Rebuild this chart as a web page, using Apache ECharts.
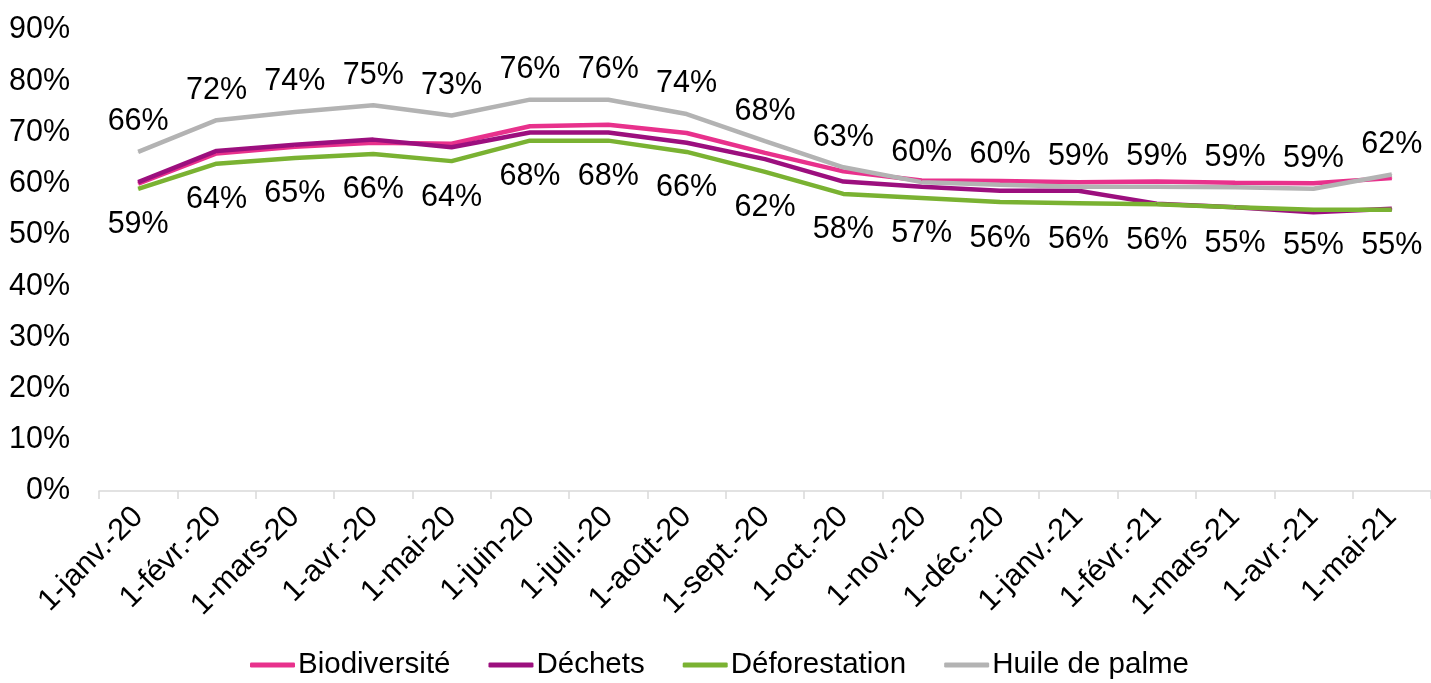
<!DOCTYPE html>
<html>
<head>
<meta charset="utf-8">
<script src="https://cdn.jsdelivr.net/npm/echarts@6/dist/echarts.min.js"></script>
<style>
html,body{margin:0;padding:0;background:#fff;}
#chart{width:1431px;height:683px;}
</style>
</head>
<body>
<div id="chart"></div>
<script>
const categories = ['1-janv.-20','1-févr.-20','1-mars-20','1-avr.-20','1-mai-20','1-juin-20','1-juil.-20','1-août-20','1-sept.-20','1-oct.-20','1-nov.-20','1-déc.-20','1-janv.-21','1-févr.-21','1-mars-21','1-avr.-21','1-mai-21'];
const biodiversite = [60.0, 65.9, 67.2, 68.0, 67.8, 71.2, 71.5, 69.9, 66.0, 62.4, 60.6, 60.5, 60.3, 60.4, 60.2, 60.1, 61.1];
const dechets      = [60.3, 66.4, 67.6, 68.6, 67.1, 70.0, 70.0, 68.0, 64.8, 60.4, 59.4, 58.6, 58.6, 56.1, 55.4, 54.4, 55.1];
const deforestation= [59.0, 63.9, 65.0, 65.8, 64.4, 68.4, 68.4, 66.2, 62.3, 58.0, 57.2, 56.4, 56.2, 56.0, 55.4, 54.9, 54.9];
const huile        = [66.2, 72.4, 74.0, 75.3, 73.3, 76.4, 76.4, 73.6, 68.3, 63.2, 60.3, 59.8, 59.4, 59.4, 59.3, 59.0, 61.8];
const yTicks = [0, 10, 20, 30, 40, 50, 60, 70, 80, 90];

const FONT = 'Liberation Sans, Arial, sans-serif';
const FS = 30.5;

function series(name, data, color, label) {
  const s = {
    name, type: 'line', data,
    symbol: 'circle', symbolSize: 1, showSymbol: true,
    lineStyle: {color, width: 4.5}, itemStyle: {color},
    emphasis: {disabled: true},
    z: 2
  };
  if (label) {
    s.label = {
      show: true, position: label.pos, distance: label.dist,
      formatter: p => Math.round(p.value) + '%',
      color: '#000', fontSize: FS, fontFamily: FONT
    };
  }
  return s;
}

const chart = echarts.init(document.getElementById('chart'));
chart.setOption({
  animation: false,
  backgroundColor: '#fff',
  textStyle: {fontFamily: FONT},
  grid: {left: 99, right: -6, top: 30, bottom: 192, containLabel: false},
  legend: {
    bottom: -2, left: 245,
    itemWidth: 45, itemHeight: 5, itemGap: 38,
    icon: 'roundRect',
    textStyle: {fontSize: 29.5, color: '#000', fontFamily: FONT, padding: [0, 0, 0, -2]},
    data: ['Biodiversité','Déchets','Déforestation','Huile de palme']
  },
  xAxis: {
    type: 'category', data: categories, boundaryGap: true,
    axisLine: {lineStyle: {color: '#d9d9d9', width: 1.5}},
    axisTick: {show: true, inside: false, length: 8, lineStyle: {color: '#d9d9d9', width: 1.5}},
    axisLabel: {rotate: 45, fontSize: FS, color: '#000', fontFamily: FONT, margin: 21, interval: 0}
  },
  yAxis: {
    type: 'value', min: yTicks[0], max: yTicks[yTicks.length-1], interval: 10,
    axisLine: {show: false}, axisTick: {show: false}, splitLine: {show: false},
    axisLabel: {formatter: v => v + '%', fontSize: FS, color: '#000', fontFamily: FONT, margin: 29}
  },
  series: [
    series('Biodiversité', biodiversite, '#E8318C'),
    series('Déchets', dechets, '#9C0F7E'),
    series('Déforestation', deforestation, '#7AB232', {pos: 'bottom', dist: 20}),
    series('Huile de palme', huile, '#B3B3B3', {pos: 'top', dist: 14})
  ]
});
</script>
</body>
</html>
